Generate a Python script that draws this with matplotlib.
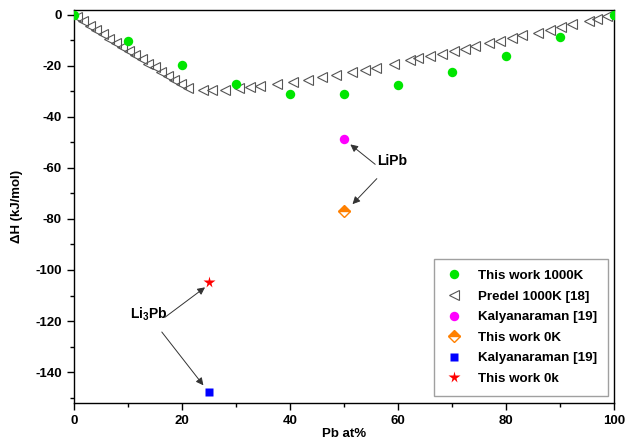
import matplotlib
matplotlib.use('Agg')
import matplotlib.pyplot as plt
from matplotlib.ticker import MultipleLocator

plt.rcParams['font.family'] = ['Liberation Sans', 'DejaVu Sans']
plt.rcParams['font.weight'] = 'bold'
plt.rcParams['axes.unicode_minus'] = False
plt.rcParams['mathtext.fontset'] = 'custom'
plt.rcParams['mathtext.rm'] = 'Liberation Sans:bold'
plt.rcParams['mathtext.bf'] = 'Liberation Sans:bold'

# This work 1000K
work_x = [0, 10, 20, 30, 40, 50, 60, 70, 80, 90, 100]
work_h = [0, -10.2, -19.5, -27.0, -31.1, -31.1, -27.7, -22.5, -16.0, -8.6, 0]

# Predel 1000K [18]
predel_x = [0.6, 1.8, 3.0, 4.2, 5.4, 6.6, 7.8, 9.0, 10.2, 11.4, 12.6, 13.8, 15.0,
            16.2, 17.4, 18.6, 19.8, 21.2, 23.9, 25.6, 28.0, 30.5, 32.6, 34.5,
            37.6, 40.5, 43.3, 45.9, 48.5, 51.5, 53.9, 56.0, 59.2, 62.3, 63.8,
            66.0, 68.1, 70.3, 72.5, 74.3, 76.8, 78.9, 81.1, 83.0, 86.0, 88.2,
            90.1, 92.2, 95.3, 96.9, 98.7]
predel_h = [-1.0, -2.6, -4.3, -6.0, -7.6, -9.3, -11.0, -12.6, -14.2, -15.9, -17.5,
            -19.1, -20.6, -22.3, -23.9, -25.5, -27.0, -28.6, -29.3, -29.3, -29.3,
            -28.6, -28.1, -28.0, -27.2, -26.4, -25.5, -24.2, -23.7, -22.6, -21.5,
            -20.8, -19.3, -17.6, -16.9, -16.3, -15.4, -14.3, -13.3, -12.4, -11.1,
            -10.2, -9.1, -8.1, -7.2, -5.9, -4.6, -3.6, -2.3, -1.6, -0.3]

# LiPb
lipb_kal = (50, -48.6)
lipb_0k = (50, -76.8)

# Li3Pb
li3pb_kal = (25, -147.8)
li3pb_0k = (25, -104.6)

fig = plt.figure(figsize=(6.4, 4.37), dpi=100)
ax = fig.add_axes([0.1152, 0.0785, 0.8442, 0.8993])

ax.plot(work_x, work_h, 'o', color='#00e600', ms=6.8, mec='none', label='This work 1000K', zorder=4)
ax.plot(predel_x, predel_h, '<', mfc='none', mec='#555555', mew=0.8, ms=7,
        label='Predel 1000K [18]', zorder=3)
ax.plot([lipb_kal[0]], [lipb_kal[1]], 'o', color='#ff00ff', ms=6.8, mec='none',
        label='Kalyanaraman [19]')
ax.plot([lipb_0k[0]], [lipb_0k[1]], 'D', color='#ff8000', fillstyle='top',
        markerfacecoloralt='white', mec='#ff8000', mew=1.0, ms=6, label='This work 0K')
ax.plot([li3pb_kal[0]], [li3pb_kal[1]], 's', color='#0000ff', ms=6, mec='none',
        label='Kalyanaraman [19]')
ax.plot([li3pb_0k[0]], [li3pb_0k[1]], '*', color='#ff0000', ms=8.5, mec='none',
        label='This work 0k')

arrow = dict(arrowstyle='-|>', color='#333333', lw=0.7, mutation_scale=11,
             shrinkA=0, shrinkB=0)
ax.text(59.0, -57.3, 'LiPb', fontsize=10, fontweight='bold', ha='center', va='center')
ax.annotate('', xy=(51.2, -50.8), xytext=(55.8, -58.6), arrowprops=arrow)
ax.annotate('', xy=(51.6, -74.2), xytext=(56.1, -64.2), arrowprops=arrow)

ax.text(13.8, -117.2, r'$\mathbf{Li_3Pb}$', fontsize=10, ha='center', va='center')
ax.annotate('', xy=(24.3, -106.8), xytext=(16.9, -118.5), arrowprops=arrow)
ax.annotate('', xy=(24.0, -145.2), xytext=(16.3, -124.3), arrowprops=arrow)

ax.set_xlim(0, 100)
ax.set_ylim(-152, 2)
ax.xaxis.set_major_locator(MultipleLocator(20))
ax.xaxis.set_minor_locator(MultipleLocator(10))
ax.yaxis.set_major_locator(MultipleLocator(20))
ax.yaxis.set_minor_locator(MultipleLocator(10))
ax.tick_params(which='major', direction='out', length=5, width=1, labelsize=9.5)
ax.tick_params(which='minor', direction='out', length=3, width=1)
for s in ax.spines.values():
    s.set_linewidth(1.0)

ax.set_xlabel('Pb at%', fontsize=9.5, fontweight='bold', labelpad=1)
ax.set_ylabel('\u0394H (kJ/mol)', fontsize=9.5, fontweight='bold')
ax.yaxis.set_label_coords(-0.094, 0.5)

leg = ax.legend(loc='lower right', bbox_to_anchor=(0.9894, 0.0178), borderaxespad=0,
                fontsize=9.6, frameon=True, fancybox=False, edgecolor='#888888',
                labelspacing=0.62, borderpad=0.8, handlelength=1.4, handletextpad=1.1,
                numpoints=1)
leg.get_frame().set_linewidth(1.0)

fig.savefig('out.png', dpi=100)
